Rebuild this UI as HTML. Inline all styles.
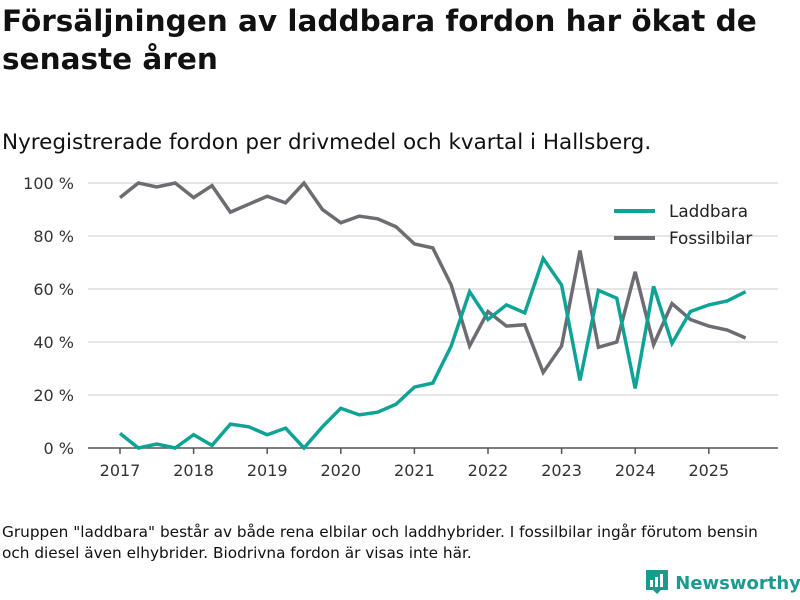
<!DOCTYPE html>
<html><head><meta charset="utf-8"><style>
body{margin:0;width:800px;height:600px;background:#fff;font-family:"DejaVu Sans","Liberation Sans",sans-serif;color:#111;overflow:hidden;position:relative}
h1{position:absolute;left:2px;top:2px;margin:0;font-size:29.5px;font-weight:bold;line-height:38px;width:790px}
.sub{position:absolute;left:2px;top:130px;font-size:21.5px;margin:0}
.foot{position:absolute;left:2px;top:522px;font-size:15.3px;line-height:21px;width:795px}
.logo{position:absolute;left:645px;top:568px;font-size:18px;color:#1b9a8e;font-weight:bold;white-space:nowrap}
</style></head><body>
<h1>Försäljningen av laddbara fordon har ökat de senaste åren</h1>
<p class="sub">Nyregistrerade fordon per drivmedel och kvartal i Hallsberg.</p>
<svg id="chart" width="800" height="600" style="position:absolute;left:0;top:0"></svg>
<div class="foot">Gruppen "laddbara" består av både rena elbilar och laddhybrider. I fossilbilar ingår förutom bensin<br>och diesel även elhybrider. Biodrivna fordon är visas inte här.</div>
<div class="logo"><svg width="24" height="26" style="vertical-align:-5px"><rect x="1" y="2" width="22" height="20" fill="#1b9a8e"/><polygon points="8,22 12,26 16,22" fill="#1b9a8e"/><rect x="5" y="12" width="3" height="7" fill="#fff"/><rect x="10" y="9" width="3" height="10" fill="#fff"/><rect x="15" y="6" width="3" height="13" fill="#fff"/></svg> Newsworthy</div>
<script>
const years=[2017,2018,2019,2020,2021,2022,2023,2024,2025];
const yTicks=[0,20,40,60,80,100];
const laddbara=[5.5,0,1.5,0,5,1,9,8,5,7.5,0,8,15,12.5,13.5,16.5,23,24.5,38.5,59,48.5,54,51,71.5,61.5,25.5,59.5,56.5,22.5,61,39.5,51.5,54,55.5,59];
const fossil=[94.5,100,98.5,100,94.5,99,89,92,95,92.5,100,90,85,87.5,86.5,83.5,77,75.5,61.5,38.5,51.5,46,46.5,28.5,38.5,74.5,38,40,66.5,39,54.5,48.5,46,44.5,41.5];
const NS="http://www.w3.org/2000/svg";
const svg=document.getElementById('chart');
const x=t=>120+(t-2017)*73.6;
const y=v=>448-v*2.65;
function el(tag,attrs,parent){const e=document.createElementNS(NS,tag);for(const k in attrs)e.setAttribute(k,attrs[k]);(parent||svg).appendChild(e);return e;}
yTicks.forEach(v=>{
  if(v>0){const g=el('line',{x1:88,x2:778,y1:y(v),y2:y(v),stroke:'#ddd','stroke-width':1.5});
  
  }
  const t=el('text',{x:74,y:y(v)+6,'text-anchor':'end','font-size':16,fill:'#333','font-family':'DejaVu Sans, sans-serif'});
  t.textContent=v+' %';
  
  
});
const ax=el('line',{x1:88,x2:778,y1:448,y2:448,stroke:'#555','stroke-width':1.5});


years.forEach(yr=>{
  el('line',{x1:x(yr),x2:x(yr),y1:448,y2:454,stroke:'#555','stroke-width':1.5});
  const t=el('text',{x:x(yr),y:476,'text-anchor':'middle','font-size':16,fill:'#333','font-family':'DejaVu Sans, sans-serif'});
  t.textContent=yr;
  
  
});
function line(data,color,name){
  const p=el('polyline',{points:data.map((v,i)=>x(2017+i/4)+','+y(v)).join(' '),fill:'none',stroke:color,'stroke-width':3.5,'stroke-linejoin':'miter'});
  
  
}
line(fossil,'#6d6c72','series-fossilbilar');
line(laddbara,'#0fa396','series-laddbara');
[['Laddbara','#0fa396',211],['Fossilbilar','#6d6c72',238]].forEach(([n,c,yy])=>{
  el('line',{x1:614,x2:655,y1:yy,y2:yy,stroke:c,'stroke-width':4});
  const t=el('text',{x:669,y:yy+6,'font-size':16.8,fill:'#222','font-family':'DejaVu Sans, sans-serif'});
  t.textContent=n;
  
  
});
</script>
</body></html>
